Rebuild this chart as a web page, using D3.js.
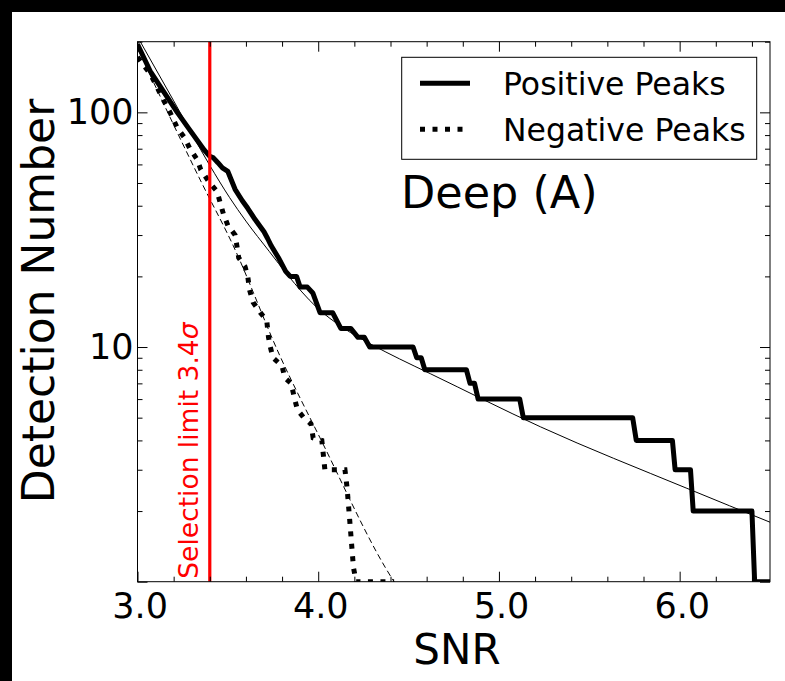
<!DOCTYPE html>
<html>
<head>
<meta charset="utf-8">
<script src="https://cdn.jsdelivr.net/npm/d3@7"></script>
<style>
  html, body { margin: 0; padding: 0; background: #000; }
  svg { display: block; }
</style>
</head>
<body>
<svg id="chart" width="785" height="681"></svg>
<script>
// Cumulative detection counts N(>SNR): [SNR, count]
const positivePeaks = [
  [3.00,195],[3.07,150],[3.22,100],[3.29,84],[3.37,69],[3.40,65],[3.42,64],[3.445,61],
  [3.47,58],[3.50,56],[3.54,47],[3.58,42],[3.61,39],[3.65,35],[3.70,31],[3.72,29],
  [3.74,27],[3.78,24],[3.82,21],[3.845,20],[3.88,20],[3.90,18],[3.94,18],[3.97,17],
  [4.01,14],[4.08,14],[4.125,12],[4.18,12],[4.22,11],[4.255,11],[4.285,10],[4.525,10],
  [4.545,9],[4.57,9],[4.59,8],[4.82,8],[4.84,7],[4.865,7],[4.885,6],[5.115,6],
  [5.135,5],[5.74,5],[5.76,4],[5.96,4],[5.975,3],[6.06,3],[6.075,2],[6.40,2],
  [6.415,1],[6.50,1]
];
const negativePeaks = [
  [3.00,172],[3.03,160],[3.07,146],[3.10,132],[3.13,118],[3.18,100],[3.22,86],[3.26,78],
  [3.29,70],[3.33,63],[3.35,57],[3.40,50],[3.44,46],[3.475,37],[3.50,33],[3.54,30],
  [3.55,27],[3.56,24],[3.595,22],[3.61,20],[3.62,17.5],[3.64,15.5],[3.68,14],[3.715,13],
  [3.725,11],[3.735,10],[3.75,9],[3.80,8.3],[3.815,7.4],[3.85,7],[3.87,6],[3.885,5.4],
  [3.92,5],[3.96,4.7],[3.972,4.1],[4.02,4],[4.037,3],[4.148,3],[4.16,2.5],[4.175,1.8],
  [4.195,1.15],[4.21,1],[4.42,1]
];
// Model curves for each population
const positiveFit = [
  [3.00,210],[3.20,112],[3.40,59.4],[3.51,43.3],[3.60,34.4],[3.73,25.5],[3.83,20.3],
  [3.99,14.8],[4.14,12.05],[4.29,10.3],[4.45,8.9],[4.62,7.7],[5.23,4.57],[6.04,2.5],[6.51,1.78]
];
const negativeFit = [
  [3.00,188],[3.35,51],[3.53,27],[3.79,9.1],[4.01,4.1],[4.42,1.0],[4.46,0.9]
];

const xMajorTicks = [3, 4, 5, 6];
const xTickLabels = ["3.0", "4.0", "5.0", "6.0"];
const xMinorTicks = [3.2,3.4,3.6,3.8,4.2,4.4,4.6,4.8,5.2,5.4,5.6,5.8,6.2,6.4];
const yMajorTicks = [1, 10, 100];
const yTickLabels = ["", "10", "100"];
const yMinorTicks = [2,3,4,5,6,7,8,9,20,30,40,50,60,70,80,90,200];
const selectionLimit = 3.4;
const legendLabels = ["Positive Peaks", "Negative Peaks"];

const font = "'DejaVu Sans', 'Liberation Sans', sans-serif";
const svg = d3.select("#chart");

// page background
svg.append("rect").attr("x", 12).attr("y", 12).attr("width", 773).attr("height", 669).attr("fill", "#fff");

const L = 137.5, R = 770, T = 41.7, B = 581.7;
const x = d3.scaleLinear().domain([3, 6.5]).range([L, R]);
const y = d3.scaleLog().domain([1, 200]).range([B, T]);

svg.append("clipPath").attr("id", "plotClip")
  .append("rect").attr("x", L).attr("y", T).attr("width", R - L).attr("height", B - T);

const plot = svg.append("g").attr("clip-path", "url(#plotClip)");
const line = d3.line().x(d => x(d[0])).y(d => y(d[1]));
const smooth = d3.line().x(d => x(d[0])).y(d => y(d[1])).curve(d3.curveMonotoneX);

plot.append("path").datum(positiveFit).attr("d", smooth)
  .attr("fill", "none").attr("stroke", "#000").attr("stroke-width", 1);
plot.append("path").datum(negativeFit).attr("d", smooth)
  .attr("fill", "none").attr("stroke", "#000").attr("stroke-width", 1)
  .attr("stroke-dasharray", "6,3.5");

plot.append("path").datum(positivePeaks).attr("d", line)
  .attr("fill", "none").attr("stroke", "#000").attr("stroke-width", 5)
  .attr("stroke-linejoin", "round");
plot.append("path").datum(negativePeaks).attr("d", line)
  .attr("fill", "none").attr("stroke", "#000").attr("stroke-width", 5)
  .attr("stroke-dasharray", "5,7.5");

// selection threshold
plot.append("line")
  .attr("x1", x(selectionLimit)).attr("x2", x(selectionLimit))
  .attr("y1", T).attr("y2", B)
  .attr("stroke", "#ff0000").attr("stroke-width", 3.2);

const selText = svg.append("text")
  .attr("transform", `translate(${x(selectionLimit) - 11.5},${B - 3}) rotate(-90)`)
  .attr("font-family", font).attr("font-size", 26.5).attr("fill", "#ff0000");
selText.append("tspan").text("Selection limit 3.4");
selText.append("tspan").attr("font-style", "italic").text("σ");

// axes with inward ticks on all four sides
function styleAxis(g) {
  g.select(".domain").remove();
  g.selectAll(".tick line").attr("stroke", "#000").attr("stroke-width", 1);
  g.selectAll(".tick text").attr("font-family", font).attr("font-size", 35).attr("fill", "#000");
}
const xLab = d => xTickLabels[xMajorTicks.indexOf(d)];
const yLab = d => yTickLabels[yMajorTicks.indexOf(d)];

svg.append("g").attr("transform", `translate(0,${B})`)
  .call(d3.axisBottom(x).tickValues(xMajorTicks).tickFormat(xLab).tickSize(-10).tickPadding(11.5))
  .call(styleAxis).selectAll(".tick text").attr("dx", "0.06em");
svg.append("g").attr("transform", `translate(0,${B})`)
  .call(d3.axisBottom(x).tickValues(xMinorTicks).tickFormat("").tickSize(-5)).call(styleAxis);
svg.append("g").attr("transform", `translate(0,${T})`)
  .call(d3.axisTop(x).tickValues(xMajorTicks).tickFormat("").tickSize(-10)).call(styleAxis);
svg.append("g").attr("transform", `translate(0,${T})`)
  .call(d3.axisTop(x).tickValues(xMinorTicks).tickFormat("").tickSize(-5)).call(styleAxis);

svg.append("g").attr("transform", `translate(${L},0)`)
  .call(d3.axisLeft(y).tickValues(yMajorTicks).tickFormat(yLab).tickSize(-10).tickPadding(4))
  .call(styleAxis);
svg.append("g").attr("transform", `translate(${L},0)`)
  .call(d3.axisLeft(y).tickValues(yMinorTicks).tickFormat("").tickSize(-5)).call(styleAxis);
svg.append("g").attr("transform", `translate(${R},0)`)
  .call(d3.axisRight(y).tickValues(yMajorTicks).tickFormat("").tickSize(-10)).call(styleAxis);
svg.append("g").attr("transform", `translate(${R},0)`)
  .call(d3.axisRight(y).tickValues(yMinorTicks).tickFormat("").tickSize(-5)).call(styleAxis);

// frame
svg.append("rect").attr("x", L).attr("y", T).attr("width", R - L).attr("height", B - T)
  .attr("fill", "none").attr("stroke", "#000").attr("stroke-width", 1);

// axis titles
svg.append("text").attr("x", 457).attr("y", 664).attr("text-anchor", "middle")
  .attr("font-family", font).attr("font-size", 42).text("SNR");
svg.append("text").attr("transform", "translate(54,301) rotate(-90)").attr("text-anchor", "middle")
  .attr("font-family", font).attr("font-size", 44).text("Detection Number");

// field label
svg.append("text").attr("x", 401).attr("y", 208)
  .attr("font-family", font).attr("font-size", 44.5).text("Deep (A)");

// legend
const leg = svg.append("g");
leg.append("rect").attr("x", 401.7).attr("y", 57.3).attr("width", 355).attr("height", 102)
  .attr("fill", "#fff").attr("stroke", "#000").attr("stroke-width", 1);
const rows = [83.3, 129.3];
leg.selectAll("line.sample").data(rows).join("line")
  .attr("x1", 420).attr("x2", 470).attr("y1", d => d).attr("y2", d => d)
  .attr("stroke", "#000").attr("stroke-width", 5)
  .attr("stroke-dasharray", (d, i) => i === 1 ? "5,7.5" : null);
leg.selectAll("text").data(legendLabels).join("text")
  .attr("x", 503).attr("y", (d, i) => rows[i] + 11.5)
  .attr("font-family", font).attr("font-size", 31.5).text(d => d);
</script>
</body>
</html>
